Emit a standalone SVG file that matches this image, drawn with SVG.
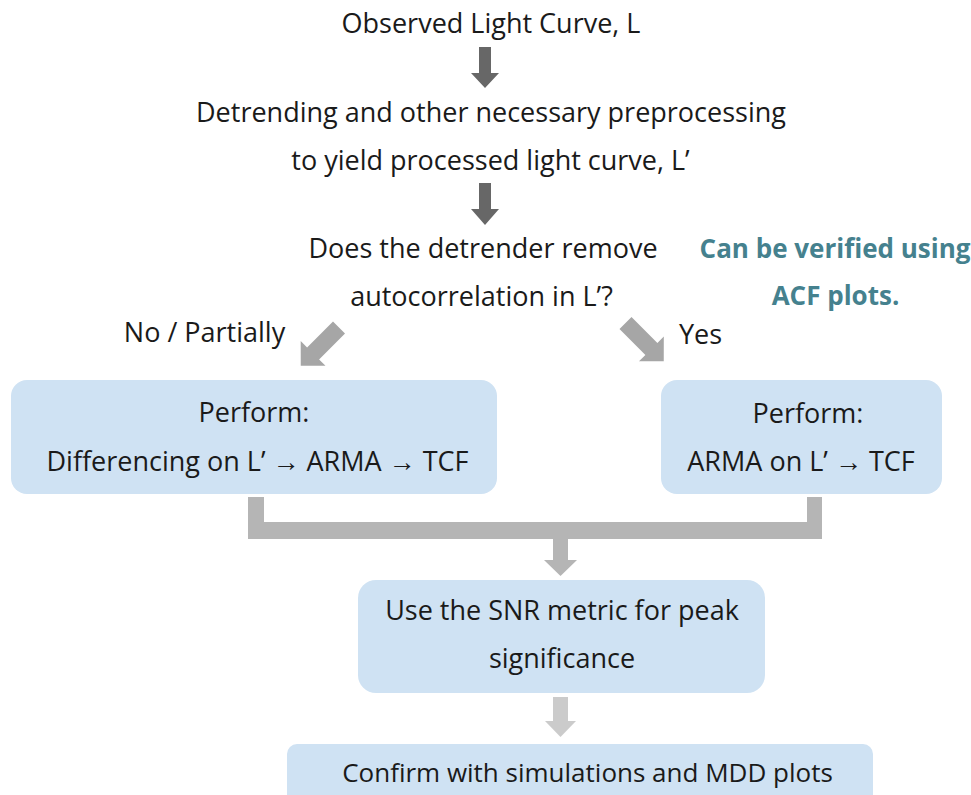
<svg xmlns="http://www.w3.org/2000/svg" width="971" height="795" viewBox="0 0 971 795">
<style>
  text { font-family: "Open Sans", "Liberation Sans", sans-serif; font-size: 27px; fill: #1a1a1a; text-anchor: middle; }
  .note { font-weight: bold; fill: #45818e; font-size: 26px; }
  .box { fill: #cfe2f3; }
  .dark { fill: #676767; }
  .mid { fill: #a6a6a6; }
  .bar { fill: #b5b5b5; }
  .light { fill: #cbcbcb; }
</style>
<rect width="971" height="795" fill="#ffffff"/>

<g id="connectors">
  <polygon class="dark" points="479,47 491,47 491,73 499,73 485,88 471,73 479,73"/>
  <polygon class="dark" points="479,183 491,183 491,209 499,209 485,225 471,209 479,209"/>
  <polygon class="mid" points="345,333.5 319.1,359.4 325.5,365.8 300.75,365.75 300.7,341 307.1,347.4 333,321.5"/>
  <polygon class="mid" points="631.5,317 657.4,342.9 663.8,336.5 663.75,361.25 639,361.3 645.4,354.9 619.5,329"/>
  <path class="bar" d="M248,497 H264 V522 H807 V497 H822 V539 H248 Z"/>
  <polygon class="bar" points="553,539 568,539 568,560 577,560 560.5,576 544,560 553,560"/>
  <polygon class="light" points="553,697 568,697 568,721 576,721 560.5,737 545,721 553,721"/>
</g>

<g id="n-observed"><text x="491" y="33">Observed Light Curve, L</text></g>
<g id="n-detrend">
  <text x="491" y="122">Detrending and other necessary preprocessing</text>
  <text x="490.5" y="170">to yield processed light curve, L’</text>
</g>
<g id="n-question">
  <text x="483" y="258">Does the detrender remove</text>
  <text x="481.5" y="306">autocorrelation in L’?</text>
</g>
<g id="n-note">
  <text class="note" x="835" y="258">Can be verified using</text>
  <text class="note" x="835.5" y="305">ACF plots.</text>
</g>
<g id="l-no"><text x="204.5" y="342">No / Partially</text></g>
<g id="l-yes"><text x="679" y="344" style="text-anchor:start">Yes</text></g>

<g id="n-left">
  <rect class="box" x="11" y="380" width="486" height="114" rx="16"/>
  <text x="254" y="422">Perform:</text>
  <text x="257.5" y="471">Differencing on L’ → ARMA → TCF</text>
</g>
<g id="n-right">
  <rect class="box" x="661" y="380" width="281" height="114" rx="16"/>
  <text x="808" y="423">Perform:</text>
  <text x="801" y="471">ARMA on L’ → TCF</text>
</g>
<g id="n-snr">
  <rect class="box" x="358" y="580" width="407" height="113" rx="18"/>
  <text x="562" y="620">Use the SNR metric for peak</text>
  <text x="562" y="668">significance</text>
</g>
<g id="n-confirm">
  <rect class="box" x="287" y="744" width="586" height="62" rx="10"/>
  <text x="587.5" y="782" style="font-size:26px">Confirm with simulations and MDD plots</text>
</g>
</svg>
